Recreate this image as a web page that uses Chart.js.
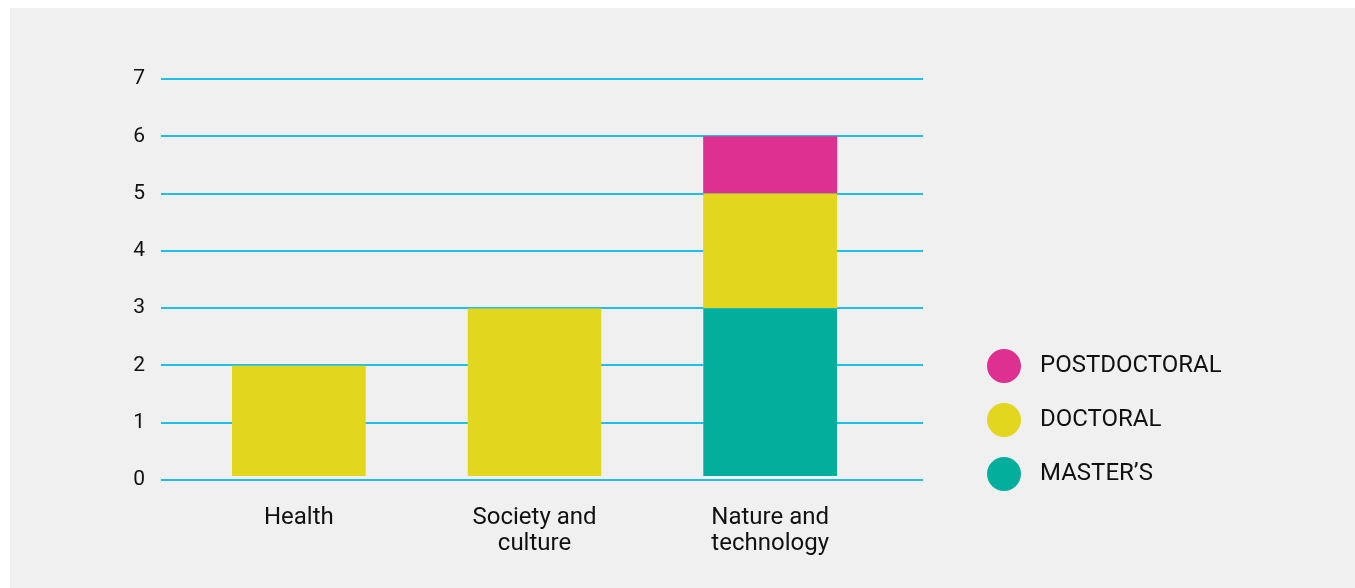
<!DOCTYPE html>
<html>
<head>
<meta charset="utf-8">
<script src="https://cdn.jsdelivr.net/npm/chart.js@4.4.1/dist/chart.umd.min.js"></script>
<style>
  html, body { margin: 0; padding: 0; background: #ffffff; width: 1355px; height: 588px; overflow: hidden; }
  #bg { position: absolute; left: 10px; top: 8px; right: 0; bottom: 0; background: #f0f0f0; }
  #c { position: absolute; left: 0; top: 0; }
</style>
</head>
<body>
<div id="bg"></div>
<canvas id="c" width="1355" height="588"></canvas>
<script>
// ---- data ----
const categories = [['Health'], ['Society and', 'culture'], ['Nature and', 'technology']];
const seriesNames = ['MASTER\u2019S', 'DOCTORAL', 'POSTDOCTORAL'];
const masters = [0, 0, 3];
const doctoral = [2, 3, 2];
const postdoctoral = [0, 0, 1];
const yTicks = [0, 1, 2, 3, 4, 5, 6, 7];

// ---- styles ----
const colors = ['#03ae9c', '#e2d61f', '#dd3091'];
const gridColor = '#1fbfe6';
const textColor = '#111111';
const FONT = 'Roboto';
const seriesData = [masters, doctoral, postdoctoral];

function isLowest(ctx) {
  const i = ctx.dataIndex, d = ctx.datasetIndex;
  for (let k = 0; k < d; k++) { if (seriesData[k][i]) return false; }
  return true;
}

function dot(color) {
  const cv = document.createElement('canvas');
  cv.width = 34; cv.height = 34;
  const g = cv.getContext('2d');
  g.fillStyle = color;
  g.beginPath(); g.arc(17, 17, 17, 0, Math.PI * 2); g.fill();
  return cv;
}
const dots = colors.map(dot);

const datasets = seriesData.map((arr, d) => ({
  label: seriesNames[d],
  data: arr,
  backgroundColor: colors[d],
  borderColor: 'rgba(0,0,0,0)',
  borderSkipped: false,
  inflateAmount: 0,
  borderWidth: (ctx) => ({ top: 0, left: 0, right: 0, bottom: (ctx.dataIndex !== undefined && isLowest(ctx)) ? 3 : 0 }),
  barPercentage: 0.5686,
  categoryPercentage: 1.0,
  stack: 's'
}));

new Chart(document.getElementById('c'), {
  type: 'bar',
  data: { labels: categories, datasets },
  options: {
    responsive: false,
    animation: false,
    layout: { padding: { left: 100, right: 130, top: 79, bottom: 28 } },
    plugins: {
      tooltip: { enabled: false },
      legend: {
        position: 'right',
        align: 'start',
        reverse: true,
        maxWidth: 275,
        title: { display: true, text: '', padding: { top: 235, bottom: 0 }, font: { size: 10, lineHeight: 1 } },
        labels: {
          usePointStyle: true,
          pointStyleWidth: 48,
          padding: 30,
          color: textColor,
          font: { family: FONT, size: 24 },
          generateLabels(chart) {
            const items = Chart.defaults.plugins.legend.labels.generateLabels(chart);
            items.forEach(it => { it.pointStyle = dots[it.datasetIndex]; });
            return items;
          }
        }
      }
    },
    scales: {
      x: {
        stacked: true,
        grid: { display: false },
        border: { display: false },
        ticks: { color: textColor, padding: 17, maxRotation: 0, autoSkip: false, font: { family: FONT, size: 24, lineHeight: 1.083 } },
        afterFit(s) { s.height = 80; }
      },
      y: {
        stacked: true,
        min: yTicks[0],
        max: yTicks[yTicks.length - 1],
        afterBuildTicks(s) { s.ticks = yTicks.map(v => ({ value: v })); },
        grid: { color: gridColor, lineWidth: 2, tickLength: 20, drawTicks: true },
        border: { display: false },
        ticks: { color: textColor, padding: 16, font: { family: FONT, size: 21 } },
        afterFit(s) { s.width = 81; }
      },
      y2: {
        position: 'right',
        min: yTicks[0],
        max: yTicks[yTicks.length - 1],
        afterBuildTicks(s) { s.ticks = yTicks.map(v => ({ value: v })); },
        grid: { color: gridColor, lineWidth: 2, tickLength: 35, drawOnChartArea: false, drawTicks: true },
        border: { display: false },
        ticks: { display: false },
        afterFit(s) { s.width = 62; }
      }
    }
  }
});
</script>
</body>
</html>
